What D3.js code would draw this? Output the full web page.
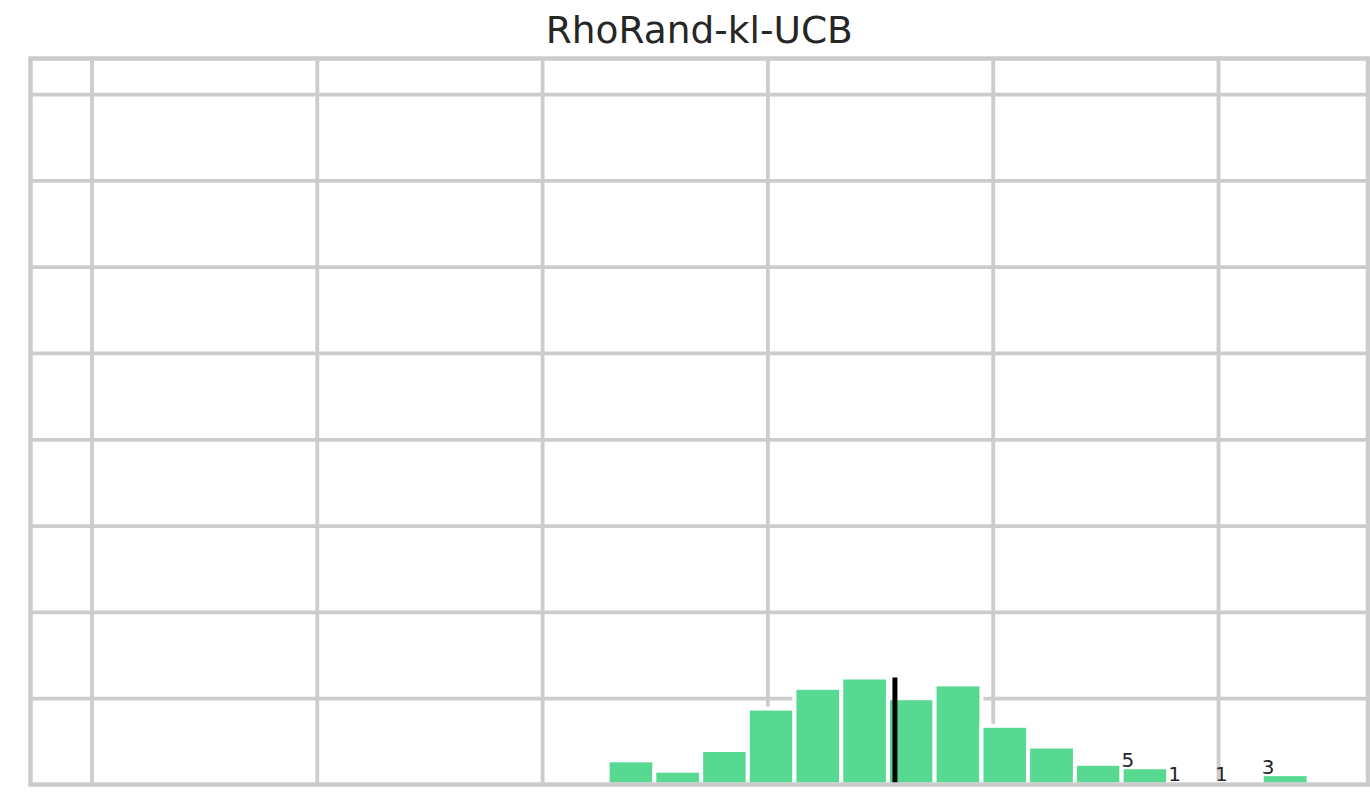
<!DOCTYPE html>
<html>
<head>
<meta charset="utf-8">
<script src="https://cdn.jsdelivr.net/npm/d3@7"></script>
<style>
  body { margin: 0; background: #fff; }
  text { font-family: "DejaVu Sans", sans-serif; fill: #262626; }
</style>
</head>
<body>
<svg id="chart" width="1370" height="795"></svg>
<script>
// histogram data
let binEdges = [2291, 2498, 2706, 2913, 3120, 3328, 3535, 3742, 3950, 4157, 4365, 4572, 4779, 4987, 5194, 5402];
let counts = [7, 4, 10, 22, 28, 31, 25, 29, 17, 11, 6, 5, 1, 1, 3];
let labeledBins = [11, 12, 13, 14];
let meanValue = 3566;
let xTicks = [0, 1000, 2000, 3000, 4000, 5000];
let yTicks = [25, 50, 75, 100, 125, 150, 175, 200];
let title = "RhoRand-kl-UCB";

let bins = counts.map(function(c, i) {
  return { x0: binEdges[i], x1: binEdges[i + 1], count: c, index: i };
});

let margin = { left: 30.5, right: 1368, top: 58.5, bottom: 784.5 };
let width = margin.right - margin.left;
let height = margin.bottom - margin.top;

let xScale = d3.scaleLinear()
  .domain([-270.7, 5665.7])
  .range([0, width]);

let yScale = d3.scaleLinear()
  .domain([0, 210.3])
  .range([height, 0]);

let svg = d3.select("#chart");

svg.append("text")
  .attr("x", margin.left + width / 2)
  .attr("y", 42.7)
  .attr("text-anchor", "middle")
  .style("font-size", "37.5px")
  .text(title);

let chart = svg.append("g")
  .attr("transform", `translate(${margin.left},${margin.top})`);

chart.append("defs").append("clipPath")
  .attr("id", "clip")
  .append("rect")
  .attr("width", width)
  .attr("height", height);

// grid lines
chart.append("g")
  .attr("class", "grid")
  .call(d3.axisBottom(xScale).tickValues(xTicks).tickSize(height).tickFormat(""));

chart.append("g")
  .attr("class", "grid")
  .call(d3.axisLeft(yScale).tickValues(yTicks).tickSize(-width).tickFormat(""));

chart.selectAll(".grid .domain").remove();
chart.selectAll(".grid .tick line")
  .attr("stroke", "#cccccc")
  .attr("stroke-width", 3.8);

let plot = chart.append("g").attr("clip-path", "url(#clip)");

plot.selectAll("rect.bar")
  .data(bins)
  .enter()
  .append("rect")
  .attr("class", "bar")
  .attr("x", function(d) { return xScale(d.x0); })
  .attr("width", function(d) { return xScale(d.x1) - xScale(d.x0); })
  .attr("y", function(d) { return yScale(d.count); })
  .attr("height", function(d) { return yScale(0) - yScale(d.count); })
  .attr("fill", "#57d992")
  .attr("stroke", "#ffffff")
  .attr("stroke-width", 4);

plot.append("line")
  .attr("x1", xScale(meanValue))
  .attr("x2", xScale(meanValue))
  .attr("y1", yScale(0))
  .attr("y2", yScale(d3.max(counts)))
  .attr("stroke", "#000")
  .attr("stroke-width", 5);

// counts written on the tail bins
chart.selectAll("text.count")
  .data(bins.filter(function(d) { return labeledBins.includes(d.index); }))
  .enter()
  .append("text")
  .attr("class", "count")
  .attr("x", function(d) { return xScale(d.x0); })
  .attr("y", function(d) { return yScale(d.count); })
  .style("font-size", "20px")
  .text(function(d) { return d.count; });

// frame
chart.append("rect")
  .attr("width", width)
  .attr("height", height)
  .attr("fill", "none")
  .attr("stroke", "#cccccc")
  .attr("stroke-width", 4.5);
</script>
</body>
</html>
